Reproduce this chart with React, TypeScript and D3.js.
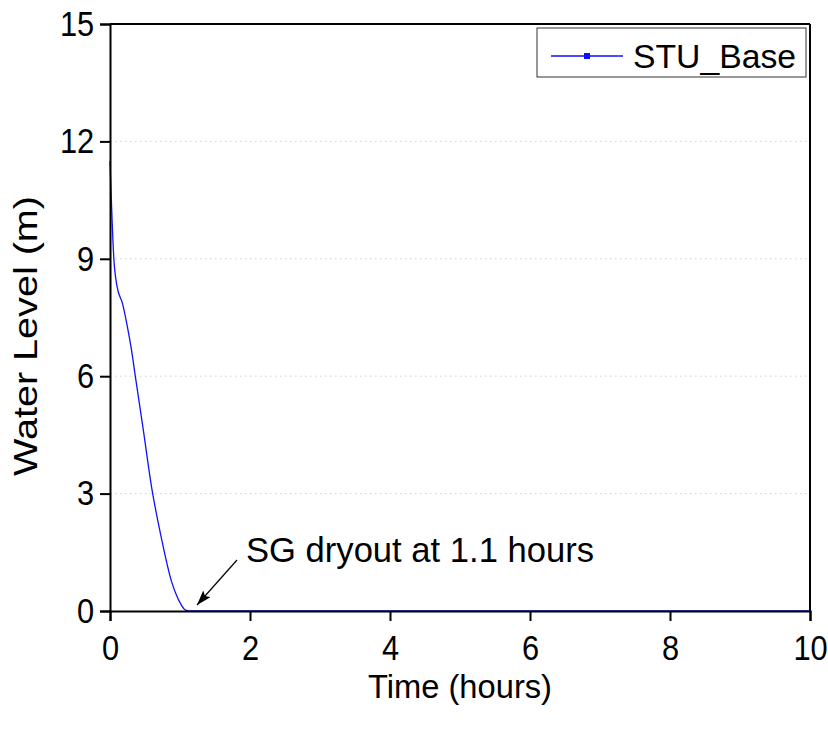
import { useEffect, useRef } from "react";
import * as d3 from "d3";

// water level curve
const timeHours = [0, 0.055, 0.1, 0.18, 0.25, 0.3, 0.37, 0.47, 0.6, 0.73, 0.88, 0.95, 1.02, 1.08, 1.13, 2, 10];
const waterLevel = [11.5, 9.0, 8.3, 7.85, 7.25, 6.75, 5.9, 4.7, 3.1, 1.9, 0.75, 0.4, 0.15, 0.02, 0, 0, 0];

const xTicks = [0, 2, 4, 6, 8, 10];
const yTicks = [0, 3, 6, 9, 12, 15];
const gridLevels = [3, 6, 9, 12];
const seriesName = "STU_Base";
const annotation = "SG dryout at 1.1 hours";

const W = 828;
const H = 729;
const FONT = "'Liberation Sans', Arial, sans-serif";

export default function App() {
  const svgRef = useRef<SVGSVGElement>(null);

  useEffect(() => {
    document.body.style.margin = "0";
    const svg = d3.select(svgRef.current);
    svg.selectAll("*").remove();

    // plot area
    const left = 110, right = 810, top = 24, bottom = 611;

    const x = d3.scaleLinear().domain([0, 10]).range([left, right]);
    const y = d3.scaleLinear().domain([0, 15]).range([bottom, top]);

    // dotted grid
    svg.append("g")
      .selectAll("line")
      .data(gridLevels)
      .join("line")
      .attr("x1", left).attr("x2", right)
      .attr("y1", (d) => y(d)).attr("y2", (d) => y(d))
      .attr("stroke", "#cfcfcf")
      .attr("stroke-width", 1)
      .attr("stroke-dasharray", "1.5,3.5");

    // the curve
    const data = timeHours.map((t, i) => ({ t, v: waterLevel[i] }));
    const line = d3.line<{ t: number; v: number }>()
      .x((d) => x(d.t))
      .y((d) => y(d.v))
      .curve(d3.curveMonotoneX);
    svg.append("path")
      .datum(data)
      .attr("d", line)
      .attr("fill", "none")
      .attr("stroke", "#1010ff")
      .attr("stroke-width", 1.3);

    // frame (top and right)
    svg.append("line")
      .attr("x1", left).attr("x2", right).attr("y1", top).attr("y2", top)
      .attr("stroke", "#000").attr("stroke-width", 2);
    svg.append("line")
      .attr("x1", right).attr("x2", right).attr("y1", top).attr("y2", bottom)
      .attr("stroke", "#000").attr("stroke-width", 2);

    // x axis
    const xAxis = svg.append("g").attr("transform", `translate(0,${bottom})`);
    xAxis.call(
      d3.axisBottom(x).tickValues(d3.range(0, 10.01, 1)).tickSize(5).tickFormat(() => "")
    );
    xAxis.call(d3.axisBottom(x).tickValues(xTicks).tickSize(10).tickPadding(14).tickFormat(d3.format("d")));
    xAxis.selectAll(".domain").attr("stroke-width", 2);

    // y axis
    const yAxis = svg.append("g").attr("transform", `translate(${left},0)`);
    yAxis.call(
      d3.axisLeft(y).tickValues(d3.range(0, 15.01, 1)).tickSize(5).tickFormat(() => "")
    );
    yAxis.call(d3.axisLeft(y).tickValues(yTicks).tickSize(10).tickPadding(8).tickFormat(d3.format("d")));
    yAxis.selectAll(".domain").attr("stroke-width", 2);

    svg.selectAll(".tick line").attr("stroke", "#000").attr("stroke-width", 2);
    svg.selectAll(".domain").attr("stroke", "#000");
    // tick labels look a bit narrow in the original
    svg.selectAll(".tick text")
      .attr("font-family", FONT)
      .attr("font-size", 35)
      .attr("fill", "#000")
      .attr("transform", "scale(0.88,1)");

    // axis titles
    svg.append("text")
      .attr("x", 460)
      .attr("y", 698)
      .attr("text-anchor", "middle")
      .attr("font-family", FONT)
      .attr("font-size", 34)
      .attr("textLength", 184)
      .attr("lengthAdjust", "spacingAndGlyphs")
      .text("Time (hours)");
    svg.append("text")
      .attr("transform", `translate(37,336) rotate(-90)`)
      .attr("text-anchor", "middle")
      .attr("font-family", FONT)
      .attr("font-size", 33)
      .attr("textLength", 280)
      .attr("lengthAdjust", "spacingAndGlyphs")
      .text("Water Level (m)");

    // annotation with arrow
    const defs = svg.append("defs");
    defs.append("marker")
      .attr("id", "arrow")
      .attr("viewBox", "0 0 10 10")
      .attr("refX", 10).attr("refY", 5)
      .attr("markerWidth", 15).attr("markerHeight", 10)
      .attr("markerUnits", "userSpaceOnUse")
      .attr("orient", "auto")
      .attr("preserveAspectRatio", "none")
      .append("path")
      .attr("d", "M0,0 L10,5 L0,10 L2,5 Z")
      .attr("fill", "#000");
    svg.append("line")
      .attr("x1", 237).attr("y1", 560)
      .attr("x2", 197).attr("y2", 605)
      .attr("stroke", "#000").attr("stroke-width", 1.2)
      .attr("marker-end", "url(#arrow)");
    svg.append("text")
      .attr("x", 246).attr("y", 562)
      .attr("font-family", FONT)
      .attr("font-size", 35)
      .attr("textLength", 348)
      .attr("lengthAdjust", "spacingAndGlyphs")
      .text(annotation);

    // legend
    const lg = svg.append("g");
    lg.append("rect")
      .attr("x", 537).attr("y", 28)
      .attr("width", 269).attr("height", 49)
      .attr("fill", "#fff").attr("stroke", "#333").attr("stroke-width", 1);
    lg.append("line")
      .attr("x1", 551).attr("x2", 623).attr("y1", 56).attr("y2", 56)
      .attr("stroke", "#1010ff").attr("stroke-width", 1.3);
    lg.append("rect")
      .attr("x", 584).attr("y", 53).attr("width", 6).attr("height", 6)
      .attr("fill", "#1010ff");
    lg.append("text")
      .attr("x", 633).attr("y", 68)
      .attr("font-family", FONT)
      .attr("font-size", 34)
      .attr("textLength", 163)
      .attr("lengthAdjust", "spacingAndGlyphs")
      .text(seriesName);
  }, []);

  return <svg ref={svgRef} width={W} height={H} style={{ display: "block", background: "#fff" }} />;
}
